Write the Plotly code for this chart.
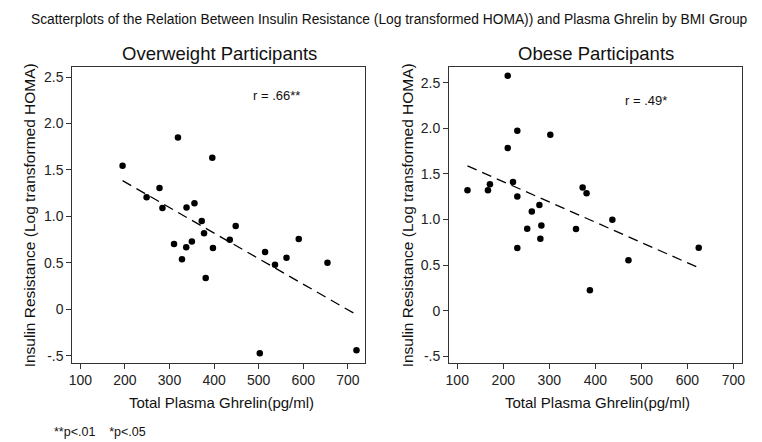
import plotly.graph_objects as go

# ---- data ----
ow_ghrelin = [194.8, 319, 396, 248.7, 277.6, 284.2, 338.2, 356, 372.3, 377.5, 448.5, 435.2,
              310.2, 337.5, 350.2, 328, 397.5, 381.2, 514.4, 536.6, 562.4, 589.9, 654.3, 502.5, 719.3]
ow_homa = [1.546, 1.849, 1.632, 1.206, 1.306, 1.092, 1.096, 1.142, 0.952, 0.820, 0.896, 0.749,
           0.703, 0.667, 0.731, 0.539, 0.660, 0.338, 0.617, 0.481, 0.556, 0.756, 0.502, -0.473, -0.441]
ow_fit_x = [194.8, 720.9]
ow_fit_y = [1.385, -0.062]

ob_ghrelin = [209.7, 230.5, 302.2, 209.7, 122.2, 166.7, 171, 221.1, 230.5, 278.5, 262, 252,
              282.8, 280.6, 230.5, 372.4, 381, 358, 437, 388.2, 472, 624.7]
ob_homa = [2.580, 1.975, 1.931, 1.785, 1.322, 1.322, 1.388, 1.413, 1.253, 1.161, 1.089, 0.899,
           0.935, 0.789, 0.687, 1.351, 1.289, 0.895, 0.998, 0.224, 0.553, 0.691]
ob_fit_x = [122.2, 625.4]
ob_fit_y = [1.589, 0.469]

x_ticks = [100, 200, 300, 400, 500, 600, 700]
y_ticks = [2.5, 2.0, 1.5, 1.0, 0.5, 0, -0.5]
y_tick_labels = ["2.5", "2.0", "1.5", "1.0", "0.5", "0", "-.5"]

main_title = "Scatterplots of the Relation Between Insulin Resistance (Log transformed HOMA)) and Plasma Ghrelin by BMI Group"
panel_titles = ["Overweight Participants", "Obese Participants"]
r_labels = ["r = .66**", "r = .49*"]
x_title = "Total Plasma Ghrelin(pg/ml)"
y_title = "Insulin Resistance (Log transformed HOMA)"
footnote = "**p<.01    *p<.05"

FONT = "Liberation Sans, Arial, sans-serif"
W, H = 762, 442

fig = go.Figure()

for i, (gx, gy, fx, fy) in enumerate([(ow_ghrelin, ow_homa, ow_fit_x, ow_fit_y),
                                       (ob_ghrelin, ob_homa, ob_fit_x, ob_fit_y)]):
    xa = "x" if i == 0 else "x2"
    ya = "y" if i == 0 else "y2"
    fig.add_trace(go.Scatter(x=fx, y=fy, mode="lines", xaxis=xa, yaxis=ya,
                             line=dict(color="black", width=1.3, dash="10px,6px"),
                             showlegend=False, hoverinfo="skip"))
    fig.add_trace(go.Scatter(x=gx, y=gy, mode="markers", xaxis=xa, yaxis=ya,
                             marker=dict(color="black", size=6.5),
                             showlegend=False))

axis_common = dict(showline=True, linecolor="#333", linewidth=1, mirror=True,
                   ticks="outside", ticklen=5, tickcolor="#333", tickwidth=1,
                   showgrid=False, zeroline=False,
                   tickfont=dict(family=FONT, size=14, color="#222"))

dom_left = [61 / W, 357 / W]
dom_right = [441.7 / W, 737.3 / W]
dom_y = [1 - 355.5 / H, 1 - 59.4 / H]

fig.update_layout(
    width=W, height=H,
    margin=dict(l=0, r=0, t=0, b=0),
    paper_bgcolor="white", plot_bgcolor="white",
    xaxis=dict(domain=dom_left, range=[82.2, 739], tickvals=x_ticks, anchor="y", **axis_common),
    yaxis=dict(domain=dom_y, range=[-0.574, 2.605], tickvals=y_ticks, ticktext=y_tick_labels,
               anchor="x", **axis_common),
    xaxis2=dict(domain=dom_right, range=[82.2, 717.8], tickvals=x_ticks, anchor="y2", **axis_common),
    yaxis2=dict(domain=dom_y, range=[-0.572, 2.672], tickvals=y_ticks, ticktext=y_tick_labels,
                anchor="x2", **axis_common),
)

ann = []
def add(text, x, y, size, angle=0, xanchor="center"):
    ann.append(dict(text=text, x=x / W, y=1 - y / H, xref="paper", yref="paper",
                    showarrow=False, textangle=angle, xanchor=xanchor, yanchor="middle",
                    font=dict(family=FONT, size=size, color="#111")))

add(main_title, 381, 12, 13.8)
add(panel_titles[0], 210, 46, 18.5)
add(panel_titles[1], 590, 46, 18.5)
add(r_labels[0], 267, 88, 13)
add(r_labels[1], 641, 93, 13)
add(x_title, 212, 395, 15)
add(x_title, 592, 395, 15)
add(y_title, 18, 208, 15.5, angle=-90)
add(y_title, 400, 208, 15.5, angle=-90)
add(footnote, 40, 425, 12.5, xanchor="left")

fig.update_layout(annotations=ann)
fig.write_html("out.html")
